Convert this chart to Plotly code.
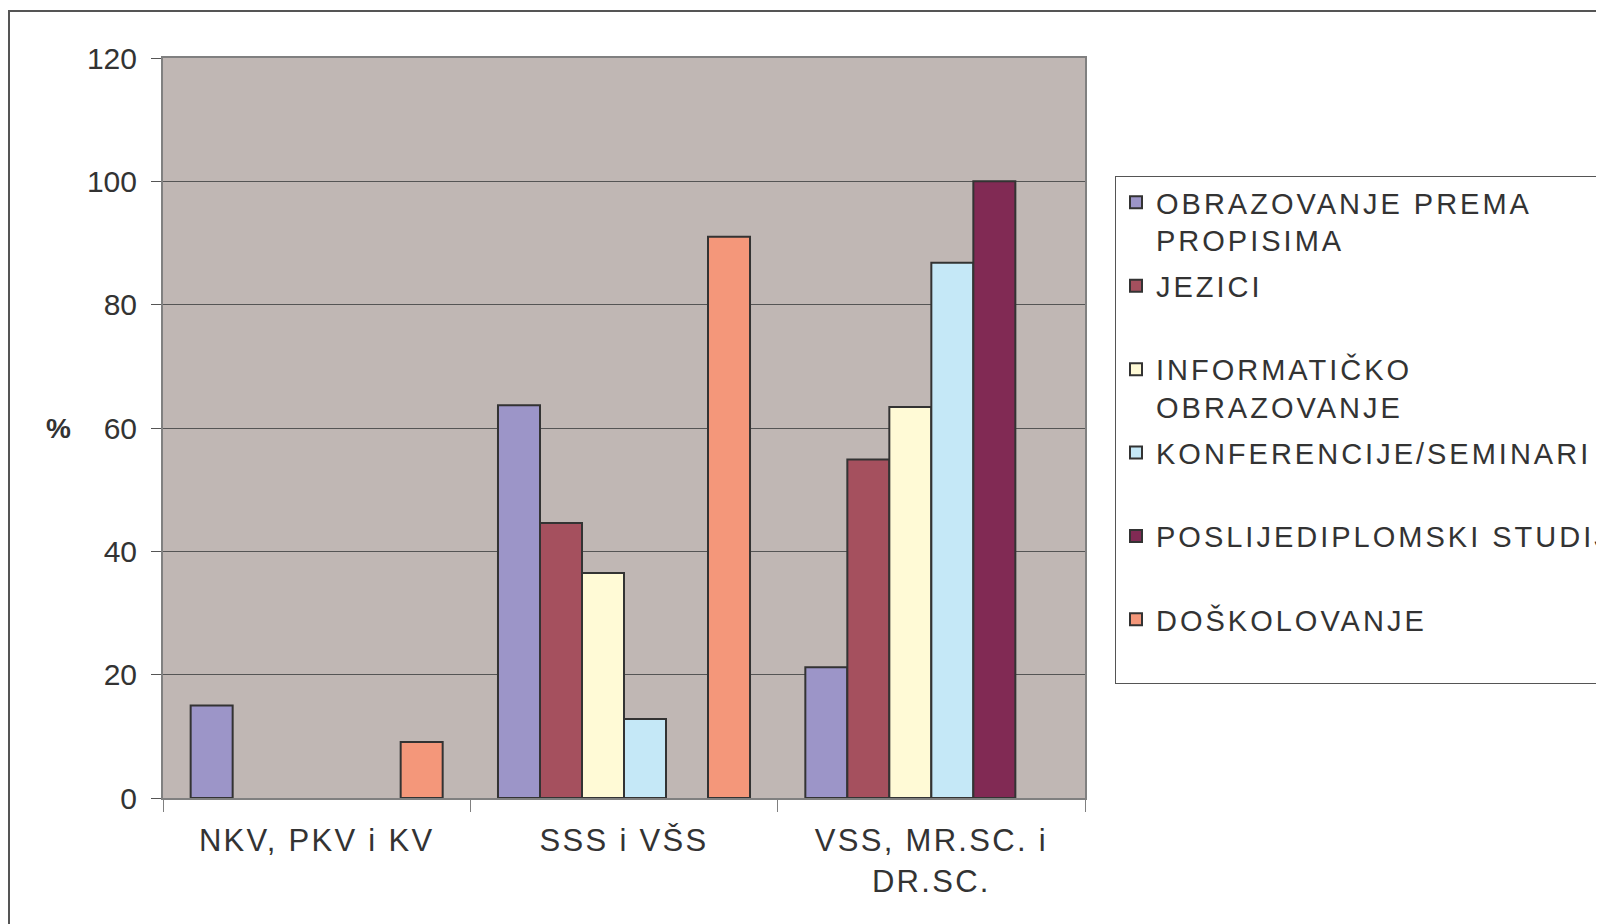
import plotly.graph_objects as go

categories = ["NKV, PKV i KV", "SSS i VŠS", "VSS, MR.SC. i\nDR.SC."]

series_names = [
    "OBRAZOVANJE PREMA\nPROPISIMA",
    "JEZICI",
    "INFORMATIČKO\nOBRAZOVANJE",
    "KONFERENCIJE/SEMINARI",
    "POSLIJEDIPLOMSKI STUDIJ",
    "DOŠKOLOVANJE",
]
obrazovanje = [15, 63.7, 21.2]
jezici = [None, 44.6, 54.9]
informaticko = [None, 36.5, 63.4]
konferencije = [None, 12.8, 86.8]
poslijediplomski = [None, None, 100]
doskolovanje = [9.1, 91, None]

values = [obrazovanje, jezici, informaticko, konferencije, poslijediplomski, doskolovanje]
colors = ["#9C95C8", "#A5505E", "#FFFAD6", "#C5E8F7", "#812A54", "#F4977A"]

FONT = "Liberation Sans, Arial, sans-serif"


def spaced(text, px, min_lines=1):
    lines = text.split("\n")
    while len(lines) < min_lines:
        lines.append(" ")
    return "<br>".join(
        f'<span style="letter-spacing:{px}px">{ln}</span>' if ln.strip() else ln
        for ln in lines
    )


fig = go.Figure()
for i, (name, vals, col) in enumerate(zip(series_names, values, colors)):
    fig.add_trace(go.Bar(
        x=categories, y=vals, name=spaced(name, 3, 2),
        marker=dict(color=col, line=dict(color="#333333", width=2)),
        legendgroup=f"g{i}",
    ))

# page has an 8px body margin; figure coordinates are page coordinates - 8
OFF = 8
W, H = 1604 - OFF, 924 - OFF
L, R, T, B = 163 - OFF, 1085 - OFF, 58 - OFF, 798 - OFF

fig.update_layout(
    width=W, height=H,
    margin=dict(l=L, r=W - R, t=T, b=H - B, autoexpand=False),
    paper_bgcolor="white",
    plot_bgcolor="#C0B7B4",
    barmode="group",
    bargap=0.18,
    bargroupgap=0,
    font=dict(family=FONT, size=30, color="#333333"),
    showlegend=True,
    legend=dict(
        x=(1115 - OFF - L) / (R - L), y=(B - (176 - OFF)) / (B - T),
        xanchor="left", yanchor="top",
        bgcolor="white", bordercolor="#555555", borderwidth=1,
        font=dict(family=FONT, size=29, color="#333333"),
        valign="top",
        tracegroupgap=5,
        traceorder="grouped",
    ),
    xaxis=dict(
        tickmode="array", tickvals=categories,
        ticktext=[spaced(c, 2.3) for c in categories],
        showline=True, linecolor="#808080", linewidth=2, mirror=True,
        ticks="outside", tickson="boundaries", ticklen=12, tickcolor="#808080", tickwidth=1,
        ticklabelstandoff=14,
        tickfont=dict(family=FONT, size=31, color="#333333"),
        showgrid=False,
    ),
    yaxis=dict(
        range=[0, 120], tickvals=[0, 20, 40, 60, 80, 100, 120],
        showline=True, linecolor="#808080", linewidth=2, mirror=True,
        ticks="outside", ticklen=10, tickcolor="#555555", tickwidth=1,
        ticklabelstandoff=8,
        tickfont=dict(family=FONT, size=30, color="#333333"),
        showgrid=True, gridcolor="#555555", gridwidth=1,
        zeroline=False,
    ),
    annotations=[dict(
        text="<b>%</b>", xref="paper", yref="paper",
        x=(58 - OFF - L) / (R - L), y=0.5, xanchor="center", yanchor="middle",
        showarrow=False, font=dict(family=FONT, size=28, color="#333333"),
    )],
    shapes=[dict(
        type="rect", xref="paper", yref="paper",
        x0=(9 - OFF - L) / (R - L), x1=2.0,
        y0=-1.0, y1=(B - (11 - OFF)) / (B - T),
        line=dict(color="#555555", width=2), fillcolor="rgba(0,0,0,0)",
        layer="below",
    )],
)

fig.write_html("out.html")
